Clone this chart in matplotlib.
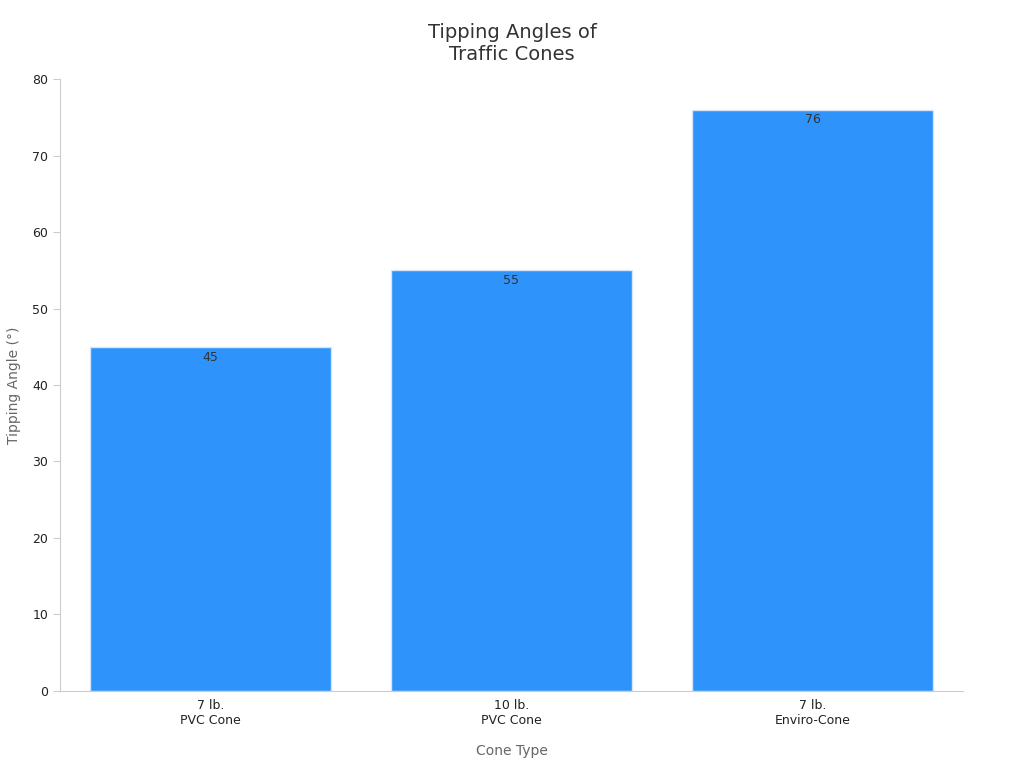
import matplotlib.pyplot as plt

categories = ["7 lb.\nPVC Cone", "10 lb.\nPVC Cone", "7 lb.\nEnviro-Cone"]
angles = [45, 55, 76]

fig = plt.figure(figsize=(10.24, 7.68), dpi=100)
ax = fig.add_axes([0.0586, 0.1003, 0.8818, 0.7968])

bars = ax.bar(range(len(categories)), angles, width=0.8, color="#2E93FA",
              edgecolor="#d6e6f7", linewidth=1)
for b, v in zip(bars, angles):
    ax.text(b.get_x() + b.get_width() / 2, v - 0.5, str(v), ha="center", va="top",
            fontsize=9, color="#333333")

ax.set_xlim(-0.5, 2.5)
ax.set_ylim(0, 80)
ax.set_yticks(range(0, 81, 10))
ax.set_xticks(range(len(categories)))
ax.set_xticklabels(categories, fontsize=9, color="#222222")
ax.tick_params(axis="y", labelsize=9, colors="#222222", length=5, color="#cccccc")
ax.tick_params(axis="x", length=0, pad=6)
for s in ["top", "right"]:
    ax.spines[s].set_visible(False)
for s in ["left", "bottom"]:
    ax.spines[s].set_color("#cccccc")

ax.set_xlabel("Cone Type", fontsize=10, color="#666666", labelpad=12)
ax.set_ylabel("Tipping Angle (°)", fontsize=10, color="#666666", labelpad=8)
fig.suptitle("Tipping Angles of\nTraffic Cones", fontsize=14, color="#333333", y=0.97)

fig.savefig("out.png")
